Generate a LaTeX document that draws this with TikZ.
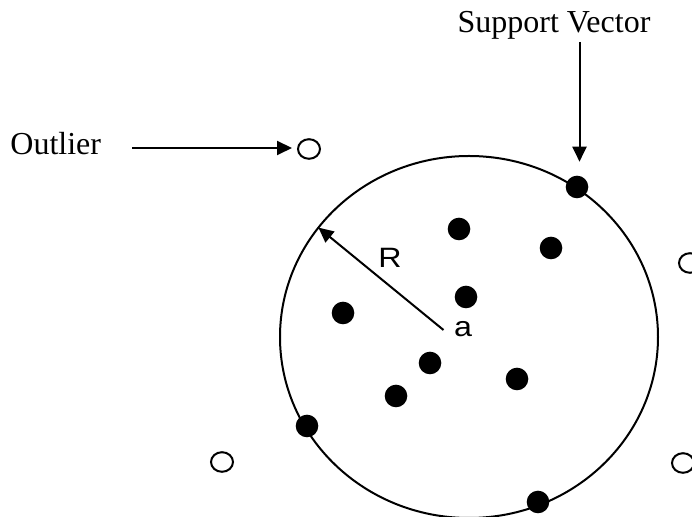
\documentclass[tikz,border=0pt]{standalone}
\usepackage{fontspec}
\setmainfont{Liberation Serif}
\newfontfamily\labelsans{Liberation Sans}
\usetikzlibrary{arrows.meta,shapes.geometric}

\tikzset{
  sample/.style={circle,fill=black,draw=none,minimum size=11.3pt,inner sep=0pt,outer sep=0pt},
  outlierpt/.style={ellipse,draw=black,line width=1pt,fill=white,minimum width=11pt,minimum height=9.8pt,inner sep=0pt,outer sep=0pt},
  boundary/.style={ellipse,draw=black,line width=1pt,minimum width=189pt,minimum height=181pt,inner sep=0pt,outer sep=0pt},
  pointer/.style={line width=1pt,-{Triangle[length=7.5pt,width=7pt]}},
  seriflabel/.style={font=\fontsize{16}{19}\selectfont,inner sep=0pt},
  sanslabel/.style={font=\labelsans\fontsize{14}{17}\selectfont,inner sep=0pt}
}

\begin{document}
\begin{tikzpicture}[x=0.5pt,y=-0.5pt]
  \useasboundingbox (0,0) rectangle (692,517);

  % enclosing hypersphere (center a, radius R)
  \node[boundary] (ball) at (469,337) {};

  % target samples inside the sphere
  \node[sample] (d1) at (459,229) {};
  \node[sample] (d2) at (551,248) {};
  \node[sample] (d3) at (466,297) {};
  \node[sample] (d4) at (343,313) {};
  \node[sample] (d5) at (430,363) {};
  \node[sample] (d6) at (517,379) {};
  \node[sample] (d7) at (396,396) {};

  % samples lying on the boundary
  \node[sample] (sv)  at (577,187) {};
  \node[sample] (sv2) at (307,426) {};
  \node[sample] (sv3) at (538,502) {};

  % outliers outside the sphere
  \node[outlierpt] (o1) at (309,149) {};
  \node[outlierpt] (o2) at (222,462) {};
  \node[outlierpt] (o3) at (690,263) {};
  \node[outlierpt] (o4) at (683,463) {};

  % labels
  \node[seriflabel,anchor=base west] (outlierlabel) at (10,155) {Outlier};
  \node[seriflabel,anchor=base] (svlabel) at (554,33) {Support Vector};
  \node[sanslabel,anchor=base] (rlabel) at (390,268) {\scalebox{1.15}[1]{R}};
  \node[sanslabel,anchor=base] (alabel) at (463,337) {\scalebox{1.15}[1]{a}};

  % arrows
  \coordinate (outtail) at (132,148);
  \draw[pointer,shorten >=3pt] (outtail) -- (outtail -| o1.west);

  \coordinate (svtail) at (579.5,42);
  \draw[pointer,shorten >=7pt] (svtail) -- (svtail |- sv.north);

  \coordinate (centre) at (443.5,330);
  \draw[pointer] (centre) -- (ball.144);
\end{tikzpicture}
\end{document}
